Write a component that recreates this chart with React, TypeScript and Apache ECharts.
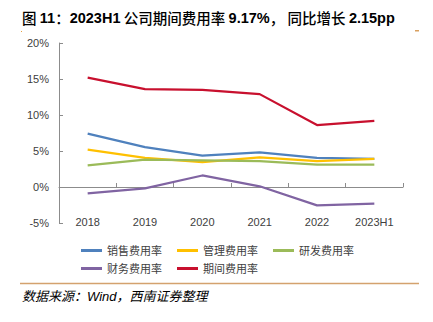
import React, { useEffect, useRef } from "react";
import * as echarts from "echarts";

const categories = ["2018", "2019", "2020", "2021", "2022", "2023H1"];
const salesRate = [7.4, 5.55, 4.35, 4.8, 4.05, 3.9];
const adminRate = [5.2, 4.05, 3.45, 4.1, 3.6, 3.9];
const rdRate = [3.0, 3.8, 3.7, 3.6, 3.1, 3.1];
const financeRate = [-0.9, -0.2, 1.6, 0.1, -2.55, -2.3];
const periodRate = [15.2, 13.6, 13.5, 12.9, 8.6, 9.17];

const seriesNames = ["销售费用率", "管理费用率", "研发费用率", "财务费用率", "期间费用率"];
const seriesColors = ["#4F81BD", "#FFC000", "#9BBB59", "#8064A2", "#C8102E"];
const seriesData = [salesRate, adminRate, rdRate, financeRate, periodRate];

const titleRich =
  "{c|图} {b|11}{c|：}{b|2023H1} {c|公司期间费用率} {b|9.17%}{c|，} {c|同比增长} {b|2.15pp}";
const sourceText = "数据来源：Wind，西南证券整理";

const FONT = '"Liberation Sans", Arial, "Noto Sans CJK SC", sans-serif';

export default function App() {
  const ref = useRef<HTMLDivElement>(null);
  useEffect(() => {
    if (!ref.current) return;
    const chart = echarts.init(ref.current, undefined, { renderer: "svg" });
    const legendText = { fontSize: 11, color: "#404040", fontFamily: FONT };
    chart.setOption({
      animation: false,
      backgroundColor: "#ffffff",
      textStyle: { fontFamily: FONT },
      grid: { left: 59, right: 30, top: 43, bottom: 99, containLabel: false },
      legend: [
        {
          data: seriesNames.slice(0, 3),
          left: 76,
          top: 240,
          icon: "rect",
          itemWidth: 21,
          itemHeight: 3,
          itemGap: 15,
          textStyle: legendText,
        },
        {
          data: seriesNames.slice(3),
          left: 76,
          top: 258,
          icon: "rect",
          itemWidth: 21,
          itemHeight: 3,
          itemGap: 15,
          textStyle: legendText,
        },
      ],
      xAxis: [
        {
          type: "category",
          data: categories,
          boundaryGap: true,
          position: "bottom",
          axisLine: { show: true, onZero: true, lineStyle: { color: "#8c8c8c", width: 1 } },
          axisTick: { show: true, inside: true, length: 4, lineStyle: { color: "#8c8c8c" } },
          axisLabel: { show: false },
          splitLine: { show: false },
        },
        {
          type: "category",
          data: categories,
          boundaryGap: true,
          position: "bottom",
          axisLine: { show: false, onZero: false },
          axisTick: { show: false },
          axisLabel: {
            show: true,
            verticalAlign: "middle",
            margin: -1,
            fontSize: 11,
            color: "#404040",
            fontFamily: FONT,
          },
          splitLine: { show: false },
        },
      ],
      yAxis: {
        type: "value",
        min: -5,
        max: 20,
        interval: 5,
        axisLine: { show: true, lineStyle: { color: "#8c8c8c", width: 1 } },
        axisTick: { show: true, inside: true, length: 4, lineStyle: { color: "#8c8c8c" } },
        axisLabel: {
          formatter: "{value}%",
          fontSize: 11,
          color: "#404040",
          margin: 10,
          fontFamily: FONT,
        },
        splitLine: { show: false },
      },
      series: seriesNames.map((name, i) => ({
        name,
        type: "line",
        xAxisIndex: 0,
        data: seriesData[i],
        symbol: "none",
        smooth: false,
        color: seriesColors[i],
        lineStyle: { width: 2.25, color: seriesColors[i] },
      })),
      graphic: [
        {
          type: "text",
          left: 22,
          top: 10,
          style: {
            text: titleRich,
            fill: "#000000",
            rich: {
              b: {
                fontFamily: '"Liberation Sans", Arial, sans-serif',
                fontWeight: "bold",
                fontSize: 14.5,
                fill: "#000000",
              },
              c: {
                fontFamily: '"Noto Sans CJK SC", sans-serif',
                fontWeight: 500,
                fontSize: 14.5,
                fill: "#000000",
              },
            },
          },
        },
        {
          type: "rect",
          shape: { x: 21, y: 31, width: 1, height: 1 },
          style: { fill: "#E8A040" },
        },
        {
          type: "rect",
          shape: { x: 415, y: 30, width: 4, height: 1.5 },
          style: { fill: "#D9A060" },
        },
        {
          type: "line",
          shape: { x1: 20, y1: 283.5, x2: 419, y2: 283.5 },
          style: { stroke: "#D4A26E", lineWidth: 1.5 },
        },
        {
          type: "text",
          left: 22,
          top: 290,
          style: {
            text: sourceText,
            font: 'italic 13px "Liberation Sans", Arial, "Noto Sans CJK SC", sans-serif',
            fill: "#000000",
          },
        },
      ],
    });
    return () => chart.dispose();
  }, []);
  return (
    <div
      ref={ref}
      style={{ position: "fixed", left: 0, top: 0, width: 433, height: 322 }}
    />
  );
}
